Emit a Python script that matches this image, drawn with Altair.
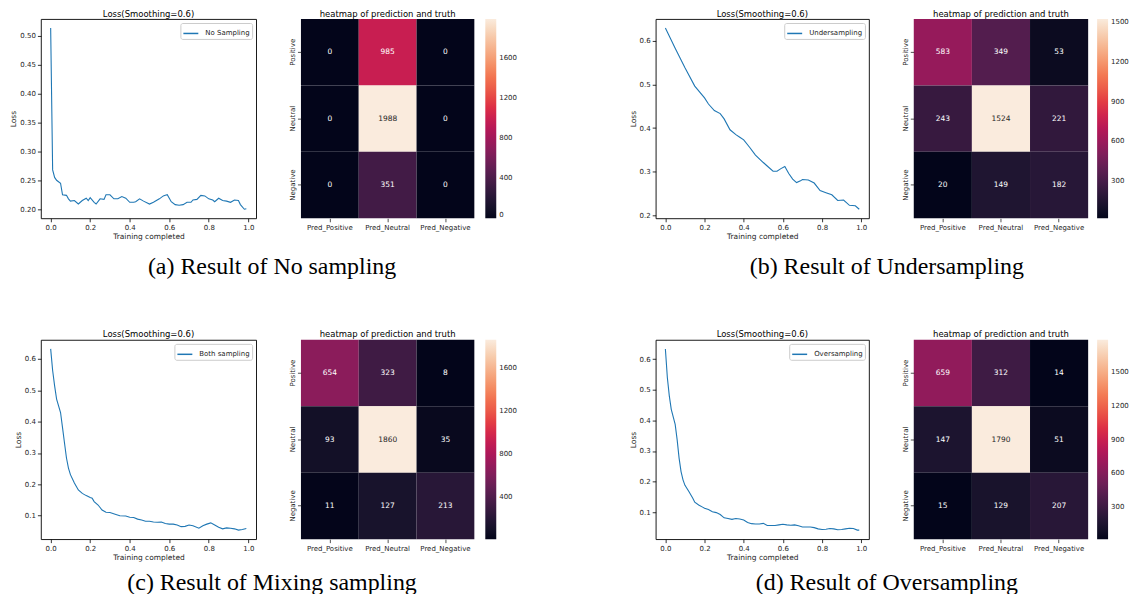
import altair as alt
import numpy as np
import pandas as pd

# ---------------- data ----------------
a_x = [0.0,0.01,0.02,0.03,0.05,0.06,0.08,0.09,0.10,0.12,0.14,0.16,0.18,0.19,0.20,0.22,0.23,0.25,0.27,0.28,
       0.30,0.32,0.34,0.36,0.38,0.40,0.42,0.43,0.45,0.47,0.50,0.52,0.55,0.57,0.58,0.59,0.61,0.63,0.65,0.67,
       0.69,0.71,0.72,0.74,0.76,0.78,0.80,0.82,0.83,0.85,0.87,0.89,0.91,0.93,0.95,0.96,0.98,0.99]
a_y = [0.513,0.268,0.255,0.250,0.245,0.225,0.224,0.218,0.214,0.215,0.209,0.215,0.219,0.215,0.220,0.212,0.209,0.218,0.217,0.225,
       0.225,0.218,0.218,0.222,0.219,0.212,0.212,0.213,0.218,0.214,0.209,0.212,0.218,0.223,0.224,0.225,0.213,0.208,0.207,0.208,
       0.212,0.212,0.216,0.217,0.224,0.223,0.218,0.216,0.213,0.219,0.215,0.214,0.212,0.216,0.215,0.208,0.200,0.201]

b_x = [0.0,0.05,0.10,0.15,0.20,0.22,0.25,0.28,0.30,0.33,0.36,0.38,0.40,0.43,0.46,0.50,0.52,0.55,0.57,0.59,
       0.61,0.63,0.65,0.67,0.69,0.70,0.73,0.76,0.79,0.82,0.85,0.88,0.91,0.94,0.97,0.99]
b_y = [0.629,0.583,0.538,0.496,0.469,0.455,0.440,0.433,0.421,0.396,0.385,0.379,0.373,0.356,0.338,0.321,0.313,0.301,0.301,0.307,
       0.312,0.296,0.283,0.275,0.279,0.282,0.281,0.274,0.257,0.252,0.247,0.234,0.235,0.223,0.222,0.214]

c_x = [0.0,0.01,0.02,0.03,0.05,0.06,0.07,0.08,0.09,0.10,0.12,0.14,0.16,0.18,0.20,0.21,0.22,0.24,0.26,0.28,
       0.30,0.33,0.35,0.38,0.40,0.42,0.44,0.46,0.48,0.50,0.52,0.54,0.56,0.58,0.60,0.62,0.64,0.66,0.68,0.70,
       0.72,0.75,0.77,0.79,0.81,0.83,0.85,0.87,0.89,0.91,0.93,0.95,0.97,0.99]
c_y = [0.632,0.563,0.514,0.472,0.429,0.381,0.332,0.284,0.252,0.231,0.204,0.182,0.171,0.164,0.158,0.156,0.145,0.134,0.118,0.111,
       0.110,0.104,0.100,0.099,0.095,0.094,0.089,0.086,0.082,0.082,0.080,0.079,0.080,0.075,0.073,0.073,0.070,0.065,0.066,0.070,
       0.068,0.060,0.068,0.073,0.077,0.070,0.063,0.058,0.061,0.060,0.058,0.054,0.056,0.059]

d_x = [0.0,0.01,0.02,0.03,0.05,0.06,0.07,0.08,0.09,0.10,0.12,0.14,0.15,0.17,0.19,0.20,0.22,0.24,0.26,0.28,
       0.30,0.32,0.34,0.36,0.38,0.40,0.42,0.44,0.46,0.48,0.50,0.52,0.54,0.56,0.58,0.60,0.62,0.64,0.66,0.68,
       0.70,0.72,0.74,0.76,0.78,0.80,0.82,0.84,0.86,0.88,0.90,0.92,0.94,0.96,0.98,0.99]
d_y = [0.633,0.540,0.480,0.436,0.387,0.337,0.277,0.233,0.206,0.188,0.168,0.146,0.133,0.124,0.117,0.113,0.109,0.102,0.099,0.093,
       0.082,0.080,0.077,0.080,0.078,0.075,0.067,0.063,0.062,0.062,0.064,0.057,0.057,0.057,0.059,0.061,0.059,0.058,0.059,0.056,
       0.052,0.052,0.052,0.050,0.046,0.044,0.045,0.047,0.046,0.043,0.044,0.046,0.048,0.047,0.042,0.042]

series_names = ["No Sampling", "Undersampling", "Both sampling", "Oversampling"]
captions = ["(a) Result of No sampling", "(b) Result of Undersampling",
            "(c) Result of Mixing sampling", "(d) Result of Oversampling"]

PRED = ["Pred_Positive", "Pred_Neutral", "Pred_Negative"]
TRUTH = ["Positive", "Neutral", "Negative"]
cm_a = [[0, 985, 0], [0, 1988, 0], [0, 351, 0]]
cm_b = [[583, 349, 53], [243, 1524, 221], [20, 149, 182]]
cm_c = [[654, 323, 8], [93, 1860, 35], [11, 127, 213]]
cm_d = [[659, 312, 14], [147, 1790, 51], [15, 129, 207]]
cbar_ticks_a = [0, 400, 800, 1200, 1600]
cbar_ticks_b = [300, 600, 900, 1200, 1500]
cbar_ticks_c = [400, 800, 1200, 1600]
cbar_ticks_d = [300, 600, 900, 1200, 1500]

x_ticks = [0.0, 0.2, 0.4, 0.6, 0.8, 1.0]
y_ticks_a = [0.20, 0.25, 0.30, 0.35, 0.40, 0.45, 0.50]
y_ticks_b = [0.2, 0.3, 0.4, 0.5, 0.6]
y_ticks_cd = [0.1, 0.2, 0.3, 0.4, 0.5, 0.6]

# ---------------- style ----------------
ROCKET = ["#03051a", "#35193e", "#701f57", "#ad1759", "#e13342", "#f37651", "#f6b48f", "#faebdd"]
BLUE = "#1f77b4"
FONT = "DejaVu Sans"
TXT = "#262626"
GAP = 45


def line_chart(xs, ys, name, width, yticks, yfmt):
    df = pd.DataFrame({"x": xs, "y": ys, "series": name})
    ymin, ymax = min(ys), max(ys)
    my = 0.05 * (ymax - ymin)
    xmin, xmax = min(xs), max(xs)
    mx = 0.05 * (xmax - xmin)
    ax_common = dict(domain=False, grid=False, tickSize=3.5, tickColor="black", tickWidth=0.8,
                     labelFontSize=7, labelFont=FONT, labelColor=TXT, titleFontSize=7.5,
                     titleFont=FONT, titleColor=TXT, titleFontWeight="normal", labelPadding=2,
                     titlePadding=2)
    return alt.Chart(
        df, width=width, height=200,
        title=alt.TitleParams("Loss(Smoothing=0.6)", fontSize=8.5, fontWeight="normal",
                              font=FONT, offset=1, color="black"),
        view=alt.ViewBackground(stroke="black", strokeWidth=0.9),
    ).mark_line(strokeWidth=1.1, clip=True).encode(
        x=alt.X("x:Q", scale=alt.Scale(domain=[xmin - mx, xmax + mx], nice=False, zero=False),
                axis=alt.Axis(values=x_ticks, format=".1f", title="Training completed", **ax_common)),
        y=alt.Y("y:Q", scale=alt.Scale(domain=[ymin - my, ymax + my], nice=False, zero=False),
                axis=alt.Axis(values=yticks, format=yfmt, title="Loss", **ax_common)),
        color=alt.Color("series:N", scale=alt.Scale(range=[BLUE]),
                        legend=alt.Legend(title=None, orient="top-right", offset=4, padding=2,
                                          strokeColor="#cccccc", fillColor="white", cornerRadius=2,
                                          symbolType="stroke", symbolStrokeWidth=1.5, symbolSize=225,
                                          labelFontSize=7, labelFont=FONT, labelColor=TXT,
                                          labelOffset=6)),
    )


def heatmap(mat, width, ticks, cb_offset):
    rows = []
    for i, t in enumerate(TRUTH):
        for j, p in enumerate(PRED):
            rows.append({"truth": t, "pred": p, "n": mat[i][j]})
    df = pd.DataFrame(rows)
    vmin, vmax = float(df["n"].min()), float(df["n"].max())
    dom = list(np.linspace(vmin, vmax, len(ROCKET)))
    thr = vmin + 0.78 * (vmax - vmin)
    ax_common = dict(domain=False, grid=False, tickSize=3.5, tickColor=TXT, tickWidth=0.8,
                     labelFontSize=7, labelFont=FONT, labelColor=TXT, title=None, labelPadding=2)
    base = alt.Chart(df).encode(
        x=alt.X("pred:N", sort=PRED, scale=alt.Scale(paddingInner=0, paddingOuter=0),
                axis=alt.Axis(labelAngle=0, **ax_common)),
        y=alt.Y("truth:N", sort=TRUTH, scale=alt.Scale(paddingInner=0, paddingOuter=0),
                axis=alt.Axis(labelAngle=270, **ax_common)),
    )
    rect = base.mark_rect().encode(
        color=alt.Color("n:Q", scale=alt.Scale(domain=dom, range=ROCKET, nice=False, zero=False),
                        legend=alt.Legend(title=None, orient="right", offset=cb_offset, type="gradient",
                                          direction="vertical", gradientLength=200,
                                          gradientThickness=11, gradientStrokeWidth=0,
                                          values=ticks, format="d", labelFontSize=7, labelFont=FONT,
                                          labelColor=TXT, labelOffset=3, padding=0))
    )
    text = base.mark_text(fontSize=7.5, font=FONT).encode(
        text="n:Q",
        color=alt.condition(f"datum.n > {thr}", alt.value(TXT), alt.value("white")),
    )
    return alt.layer(rect, text).properties(
        width=width, height=200,
        title=alt.TitleParams("heatmap of prediction and truth", fontSize=8.5, fontWeight="normal",
                              font=FONT, offset=1, color="black"),
    )


def spacer(width):
    return alt.Chart(pd.DataFrame({"s": [""]})).mark_text().encode(
        text="s:N").properties(width=width, height=200)


def caption(text, width, height, dy):
    return alt.Chart(pd.DataFrame({"cap": [text]})).mark_text(
        font="Liberation Serif", fontSize=24, color="black", dy=dy
    ).encode(text="cap:N").properties(width=width, height=height)


def panel_row(lineL, heatL, lineR, heatR):
    return alt.hconcat(lineL, heatL, spacer(92), lineR, heatR, spacing=GAP, bounds="flush"
                       ).resolve_scale(color="independent").resolve_legend(color="independent")


def caption_row(left, right, height, dy):
    return alt.hconcat(caption(left, 464, height, dy), caption(right, 442, height, dy),
                       spacing=164, bounds="flush")


row1 = panel_row(line_chart(a_x, a_y, series_names[0], 216, y_ticks_a, ".2f"),
                 heatmap(cm_a, 174, cbar_ticks_a, 11),
                 line_chart(b_x, b_y, series_names[1], 214, y_ticks_b, ".1f"),
                 heatmap(cm_b, 175, cbar_ticks_b, 9))
row2 = panel_row(line_chart(c_x, c_y, series_names[2], 216, y_ticks_cd, ".1f"),
                 heatmap(cm_c, 174, cbar_ticks_c, 11),
                 line_chart(d_x, d_y, series_names[3], 214, y_ticks_cd, ".1f"),
                 heatmap(cm_d, 175, cbar_ticks_d, 9))

chart = alt.vconcat(
    row1, caption_row(captions[0], captions[1], 89, -19),
    row2, caption_row(captions[2], captions[3], 26, 8),
    spacing=0,
).resolve_scale(color="independent").resolve_legend(color="independent").properties(
    padding={"left": 1, "top": 0, "right": 0, "bottom": 0}
).configure_view(stroke="transparent").configure_title(font=FONT)

chart.save("out.html", embed_options={"renderer": "svg", "actions": False})
